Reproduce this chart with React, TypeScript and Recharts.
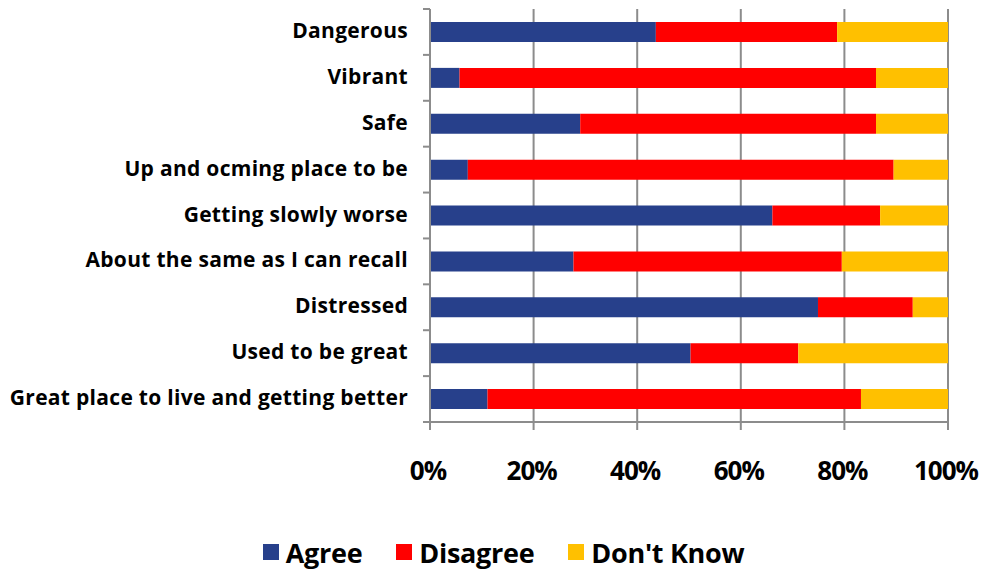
import React from 'react';
import { BarChart, Bar, XAxis, YAxis, CartesianGrid, Legend } from 'recharts';

const categories = [
  'Dangerous',
  'Vibrant',
  'Safe',
  'Up and ocming place to be',
  'Getting slowly worse',
  'About the same as I can recall',
  'Distressed',
  'Used to be great',
  'Great place to live and getting better',
];
const agree = [43.6, 5.7, 29.0, 7.3, 66.1, 27.7, 74.9, 50.3, 11.1];
const disagree = [35.0, 80.4, 57.1, 82.2, 20.8, 51.8, 18.3, 20.8, 72.1];
const dontKnow = [21.4, 13.9, 13.9, 10.5, 13.1, 20.5, 6.8, 28.9, 16.8];
const xTicks = [0, 0.2, 0.4, 0.6, 0.8, 1];

const seriesNames = ['Agree', 'Disagree', "Don't Know"];
const seriesColors = ['#27408B', '#FF0000', '#FFC000'];

const data = categories.map((name, i) => ({
  name,
  agree: agree[i],
  disagree: disagree[i],
  dontKnow: dontKnow[i],
}));

const W = 987;
const H = 575;
const M = { top: 9, right: 39, bottom: 0, left: 0 };
const Y_W = 430;
const X_H = 102;
const LEG_H = 51;
const plotH = H - M.top - M.bottom - X_H - LEG_H;
const band = plotH / categories.length;
const FONT = '"Open Sans", sans-serif';
const AXIS = '#8C8C8C';

const YTick = (props: any) => {
  const { x, y, payload, index } = props;
  return (
    <g>
      <line x1={x - 7} x2={x} y1={y - band / 2} y2={y - band / 2} stroke={AXIS} strokeWidth={2} />
      {index === categories.length - 1 && (
        <line x1={x - 7} x2={x} y1={y + band / 2} y2={y + band / 2} stroke={AXIS} strokeWidth={2} />
      )}
      <text
        x={x - 22}
        y={y}
        dy={6}
        textAnchor="end"
        fontFamily={FONT}
        fontWeight={700}
        fontSize={21}
        letterSpacing={0.3}
        fill="#000"
      >
        {payload.value}
      </text>
    </g>
  );
};

const XTick = (props: any) => {
  const { x, y, payload } = props;
  return (
    <text
      x={x - 2}
      y={y}
      dy={48}
      textAnchor="middle"
      fontFamily={FONT}
      fontWeight={700}
      fontSize={26}
      letterSpacing={-1}
      fill="#000"
    >
      {Math.round(payload.value * 100) + '%'}
    </text>
  );
};

const LegendContent = () => (
  <div
    style={{
      display: 'flex',
      justifyContent: 'center',
      alignItems: 'center',
      height: LEG_H,
      boxSizing: 'border-box',
      paddingTop: 5,
      fontFamily: FONT,
      fontWeight: 700,
      fontSize: 27,
      color: '#000',
      paddingLeft: 59,
    }}
  >
    {seriesNames.map((n, i) => (
      <div key={n} style={{ display: 'flex', alignItems: 'center', marginRight: i < 2 ? 34 : 0 }}>
        <div style={{ width: 16, height: 16, background: seriesColors[i], marginRight: 7 }} />
        <span style={{ letterSpacing: -0.3 }}>{n}</span>
      </div>
    ))}
  </div>
);

export default function App() {
  return (
    <div style={{ position: 'absolute', left: 0, top: 0, width: W, height: H, background: '#fff' }}>
      <BarChart
        width={W}
        height={H}
        data={data}
        layout="vertical"
        stackOffset="expand"
        margin={M}
        barSize={20}
      >
        <CartesianGrid horizontal={false} stroke={AXIS} strokeWidth={2} />
        <XAxis
          type="number"
          domain={[0, 1]}
          ticks={xTicks}
          height={X_H}
          tickSize={8}
          tickMargin={2}
          tick={<XTick />}
          axisLine={{ stroke: AXIS, strokeWidth: 2 }}
          tickLine={{ stroke: AXIS, strokeWidth: 2 }}
          interval={0}
        />
        <YAxis
          type="category"
          dataKey="name"
          width={Y_W}
          tickSize={0}
          tickMargin={0}
          tickLine={false}
          axisLine={{ stroke: AXIS, strokeWidth: 2 }}
          tick={<YTick />}
          interval={0}
        />
        <Legend verticalAlign="bottom" height={LEG_H} content={<LegendContent />} />
        <Bar dataKey="agree" name={seriesNames[0]} stackId="a" fill={seriesColors[0]} isAnimationActive={false} />
        <Bar dataKey="disagree" name={seriesNames[1]} stackId="a" fill={seriesColors[1]} isAnimationActive={false} />
        <Bar dataKey="dontKnow" name={seriesNames[2]} stackId="a" fill={seriesColors[2]} isAnimationActive={false} />
      </BarChart>
    </div>
  );
}
